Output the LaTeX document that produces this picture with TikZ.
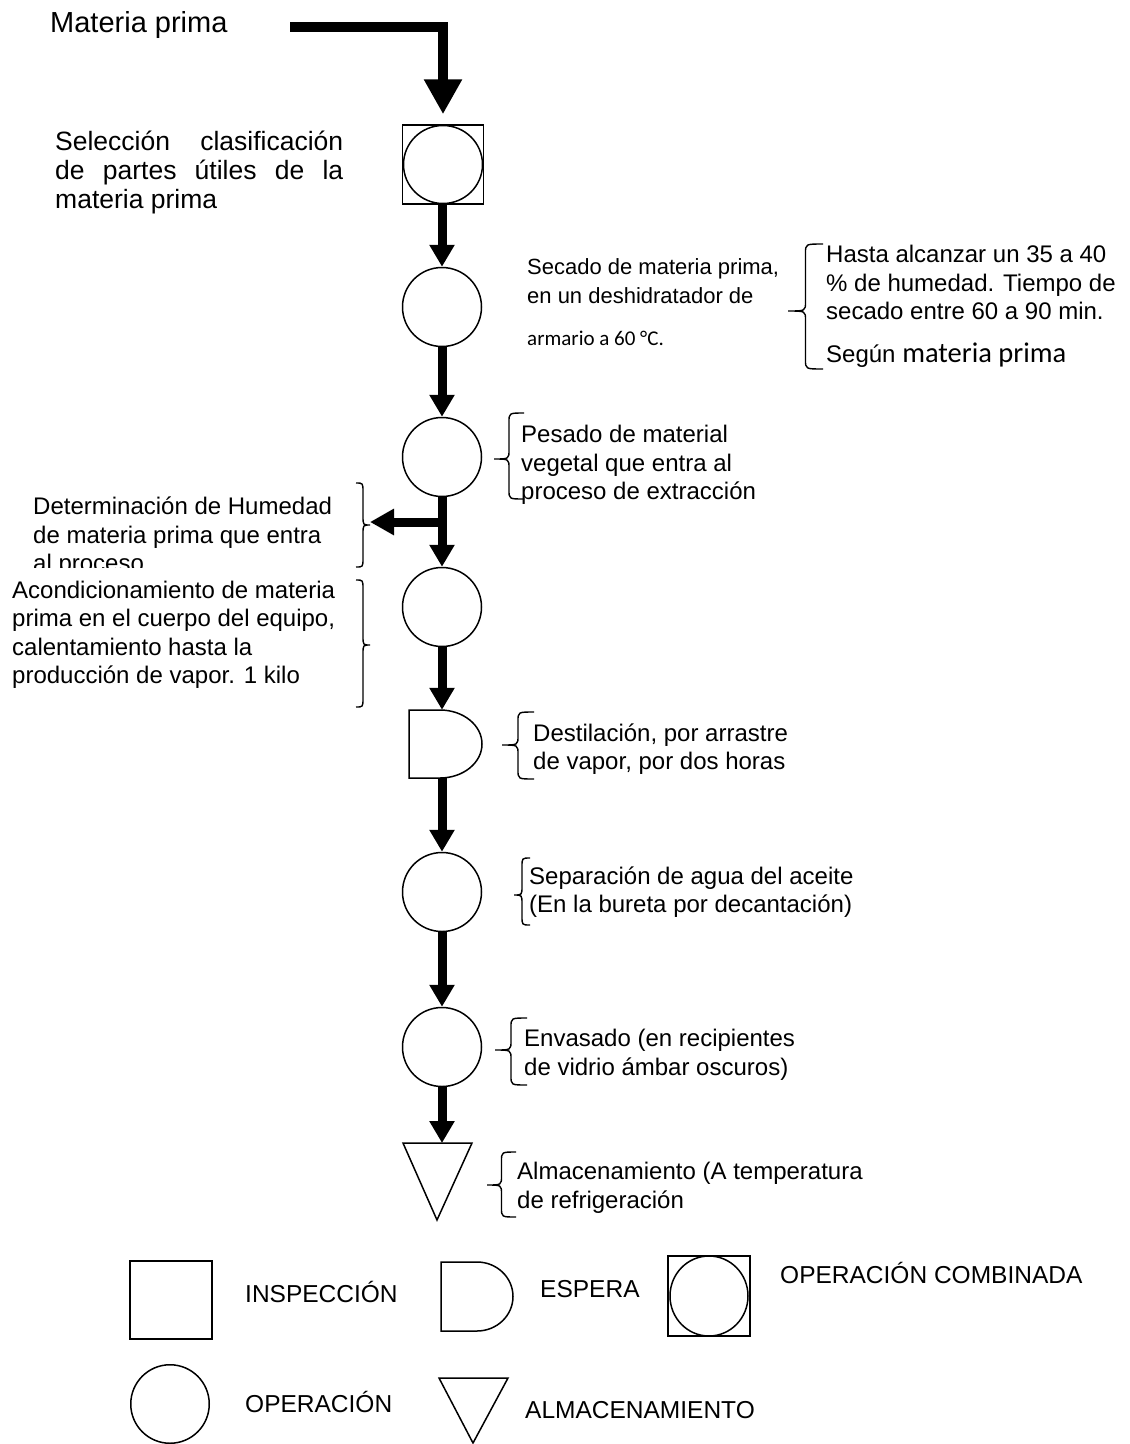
\documentclass[tikz,border=0pt]{standalone}
\usepackage{fontspec}
\setmainfont{Liberation Sans}
\newfontfamily\calib{Carlito}
\usetikzlibrary{arrows.meta}
\tikzset{
 shp/.style={draw, line width=1.5pt, inner sep=0pt},
 opc/.style={shp, circle, minimum size=79pt},
 flow/.style={line width=9pt, -{Triangle[width=24pt,length=22pt]}},
 branchflow/.style={line width=9pt, -{Triangle[width=25pt,length=24pt]}},
 bigflow/.style={line width=10pt, -{Triangle[width=36pt,length=35pt]}},
 txt/.style={inner sep=0pt, anchor=west, align=left, font=\fontsize{24}{28.5}\selectfont},
 brc/.style={line width=1.4pt},
}
\newcommand\wbrace[5]{% tip x, end x, top y, tip y, bottom y
 \draw[brc] (#2,#3) .. controls ({(#1+#2)/2},#3) .. ({(#1+#2)/2},#3+9) -- ({(#1+#2)/2},#4-9) .. controls ({(#1+#2)/2},#4) .. (#1,#4) .. controls ({(#1+#2)/2},#4) .. ({(#1+#2)/2},#4+9) -- ({(#1+#2)/2},#5-9) .. controls ({(#1+#2)/2},#5) .. (#2,#5);}
\begin{document}
\begin{tikzpicture}[x=1pt,y=-1pt]
\useasboundingbox (0,0) rectangle (1130,1444);
\fill[white] (0,0) rectangle (1130,1444);

% ---- process column ----
\node[txt, font=\fontsize{29}{33}\selectfont] (mp) at (50,25) {Materia prima};
\node[shp, rectangle, minimum width=81pt, minimum height=79pt] (comb) at (443,164.5) {};
\draw[shp] (comb.center) ellipse [x radius=39.5, y radius=39];
\node[opc] (c2) at (442,307) {};
\node[opc] (c3) at (442,457) {};
\node[opc] (c4) at (442,607) {};
\node[inner sep=0pt, minimum width=73pt, minimum height=68pt] (dd) at (445.5,744) {};
\draw[shp] (409,710) -- (440,710) .. controls (463.2,710) and (482,725.2) .. (482,744)
  .. controls (482,762.8) and (463.2,778) .. (440,778) -- (409,778) -- cycle;
\node[opc] (c5) at (442,892) {};
\node[opc] (c6) at (442,1047) {};
\draw[shp] (403,1143) -- (472,1143) -- (437,1220) -- cycle;
\coordinate (tritop) at (442,1143);

% ---- connectors ----
\coordinate (mpstart) at (290,27);
\draw[bigflow, shorten >=10pt] (mpstart) -| (comb.north);
\draw[flow] (comb.south -| c2.north) -- (c2.north);
\draw[flow] (c2.south) -- (c3.north);
\draw[flow] (c3.south) -- (c4.north);
\coordinate (brs) at (446,522);
\coordinate (bre) at (370,522);
\draw[branchflow] (brs) -- (bre);
\draw[flow] (c4.south) -- (c4.south |- dd.north);
\draw[flow] (dd.south -| c5.north) -- (c5.north);
\draw[flow] (c5.south) -- (c6.north);
\draw[flow] (c6.south) -- (tritop);

% ---- texts ----
\node[txt, font=\fontsize{26.5}{29}\selectfont] (sel) at (55,172)
 {\makebox[288pt][s]{Selección clasificación}\\\makebox[288pt][s]{de partes útiles de la}\\materia prima};
\node[txt, anchor=north west, font=\fontsize{22}{28.5}\selectfont] (sec) at (527,258.5)
 {Secado de materia prima,\\en un deshidratador de\\[13.5pt]{\calib\fontsize{21}{28.5}\selectfont armario a 60 °C.}};
\node[txt, anchor=north west] (has) at (826,245)
 {Hasta alcanzar un 35 a 40\\\% de humedad. Tiempo de\\secado entre 60 a 90 min.\\[14pt]Según {\calib\fontsize{28.5}{30}\selectfont materia prima}};
\node[txt] (pes) at (521,465) {Pesado de material\\vegetal que entra al\\proceso de extracción};
\begin{scope}
 \clip (0,480) rectangle (350,567);
 \node[txt] (det) at (33,537) {Determinación de Humedad\\de materia prima que entra\\al proceso};
\end{scope}
\node[txt] (aco) at (12,635) {Acondicionamiento de materia\\prima en el cuerpo del equipo,\\calentamiento hasta la\\producción de vapor. 1 kilo};
\node[txt] (des) at (533,749) {Destilación, por arrastre\\de vapor, por dos horas};
\node[txt] (sep) at (529,892) {Separación de agua del aceite\\(En la bureta por decantación)};
\node[txt] (env) at (524,1055) {Envasado (en recipientes\\de vidrio ámbar oscuros)};
\node[txt] (alm) at (517,1188) {Almacenamiento (A temperatura\\de refrigeración};

% ---- braces ----
\wbrace{788}{823}{244}{311}{369}
\wbrace{494}{524}{413}{459}{499}
\wbrace{370}{356}{483}{525}{567}
\wbrace{370}{356}{580}{645}{707}
\wbrace{502}{534}{712}{745}{779}
\wbrace{514}{530}{858}{895}{925}
\wbrace{495}{527}{1018}{1050}{1085}
\wbrace{487}{516}{1152}{1185}{1217}

% ---- legend ----
\node[shp, rectangle, minimum width=82pt, minimum height=78pt] (lsq) at (171,1300) {};
\node[txt, font=\fontsize{24.5}{28}\selectfont] (lins) at (245,1292) {INSPECCIÓN};
\draw[shp] (441,1262) -- (477,1262) .. controls (496.9,1262) and (513,1277.5) .. (513,1296.5)
  .. controls (513,1315.5) and (496.9,1331) .. (477,1331) -- (441,1331) -- cycle;
\node[txt, font=\fontsize{24.5}{28}\selectfont] (lesp) at (540,1289) {ESPERA};
\node[shp, rectangle, minimum width=82pt, minimum height=80pt] (lcomb) at (709,1296) {};
\draw[shp] (lcomb.center) ellipse [x radius=39, y radius=40];
\node[txt, font=\fontsize{24.5}{28}\selectfont] (lcombt) at (780,1273) {OPERACIÓN COMBINADA};
\node[shp, circle, minimum size=78.5pt] (lop) at (170,1404) {};
\node[txt, font=\fontsize{24.5}{28}\selectfont] (lopt) at (245,1401.5) {OPERACIÓN};
\draw[shp] (439,1378) -- (508,1378) -- (473,1443) -- cycle;
\node[txt, font=\fontsize{24.5}{28}\selectfont] (lalm) at (525,1410) {ALMACENAMIENTO};
\end{tikzpicture}
\end{document}
